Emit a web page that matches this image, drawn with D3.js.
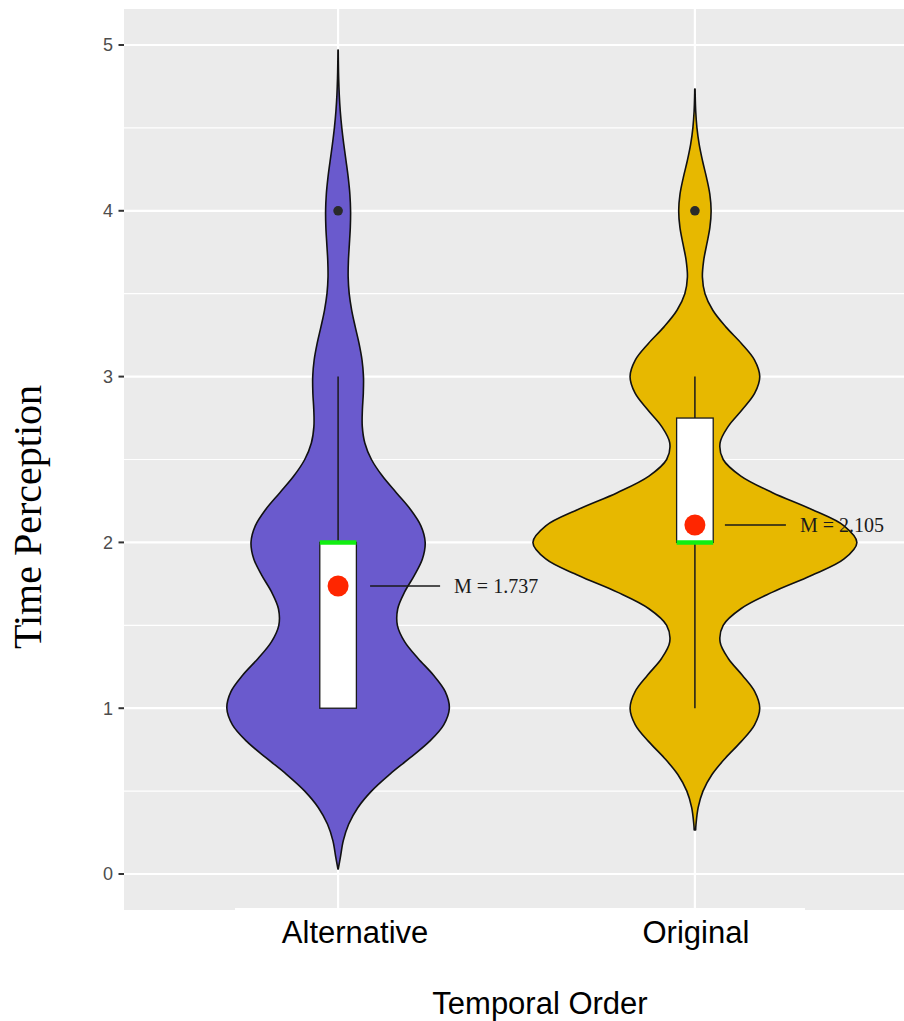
<!DOCTYPE html>
<html>
<head>
<meta charset="utf-8">
<script src="https://cdn.jsdelivr.net/npm/d3@7"></script>
<style>
  body { margin: 0; background: #ffffff; }
  svg { display: block; }
</style>
</head>
<body>
<svg id="chart" width="904" height="1021"></svg>
<script>
// ---- data ----
const categories = ["Alternative", "Original"];
const means = [1.737, 2.105];
const q1 = [1, 2];
const medians = [2, 2];
const q3 = [2, 2.75];
const whiskerLow = [1, 1];
const whiskerHigh = [3, 3];
const outliers = [[4], [4]];
const yTicks = [0, 1, 2, 3, 4, 5];
const yMinorTicks = [0.5, 1.5, 2.5, 3.5, 4.5];

// violin profiles: [Time Perception value, density relative to the widest violin]
const altDensity = [
  [0.03, 0.0008], [0.1, 0.0141], [0.2, 0.0318], [0.3, 0.0652], [0.4, 0.1216],
  [0.5, 0.2059], [0.6, 0.3171], [0.7, 0.4435], [0.8, 0.5639], [0.9, 0.6520],
  [1.0, 0.6867], [1.1, 0.6614], [1.2, 0.5881], [1.3, 0.4940], [1.4, 0.4115],
  [1.5, 0.3661], [1.6, 0.3682], [1.7, 0.4101], [1.8, 0.4701], [1.9, 0.5204],
  [2.0, 0.5376], [2.1, 0.5111], [2.2, 0.4459], [2.3, 0.3595], [2.4, 0.2736],
  [2.5, 0.2059], [2.6, 0.1650], [2.7, 0.1493], [2.8, 0.1500], [2.9, 0.1557],
  [3.0, 0.1567], [3.1, 0.1477], [3.2, 0.1293], [3.3, 0.1059], [3.4, 0.0840],
  [3.5, 0.0686], [3.6, 0.0622], [3.7, 0.0638], [3.8, 0.0697], [3.9, 0.0754],
  [4.0, 0.0771], [4.1, 0.0727], [4.2, 0.0627], [4.3, 0.0493], [4.4, 0.0352],
  [4.5, 0.0229], [4.6, 0.0135], [4.7, 0.0072], [4.8, 0.0035], [4.9, 0.0016],
  [4.97, 0.0008]
];
const origDensity = [
  [0.266, 0.0045], [0.3, 0.0068], [0.4, 0.0199], [0.5, 0.0498], [0.6, 0.1055],
  [0.7, 0.1890], [0.8, 0.2867], [0.9, 0.3681], [1.0, 0.4002], [1.1, 0.3692],
  [1.2, 0.2915], [1.3, 0.2059], [1.4, 0.1554], [1.5, 0.1744], [1.6, 0.2837],
  [1.7, 0.4793], [1.8, 0.7185], [1.9, 0.9206], [2.0, 1.0], [2.1, 0.9206],
  [2.2, 0.7185], [2.3, 0.4793], [2.4, 0.2837], [2.5, 0.1744], [2.6, 0.1554],
  [2.7, 0.2059], [2.8, 0.2915], [2.9, 0.3692], [3.0, 0.4003], [3.1, 0.3682],
  [3.2, 0.2871], [3.3, 0.1907], [3.4, 0.1105], [3.5, 0.0623], [3.6, 0.0463],
  [3.7, 0.0540], [3.8, 0.0736], [3.9, 0.0925], [4.0, 0.1001], [4.1, 0.0920],
  [4.2, 0.0717], [4.3, 0.0473], [4.4, 0.0264], [4.5, 0.0125], [4.6, 0.0050],
  [4.7, 0.0017], [4.734, 0.0011]
];
const densities = [altDensity, origDensity];

// ---- layout & style ----
const panel = { left: 124, right: 909, top: 9, bottom: 910 };
const yLimits = [-0.217, 5.217];
const fills = ["#6A5ACD", "#E7B800"];
const maxHalfWidth = 162;
const boxHalf = 18.3;
const labelShift = { Alternative: 17, Original: 1 };
const meanNote = {
  Alternative: { x1: 32, x2: 102, tx: 116 },
  Original: { x1: 30, x2: 91, tx: 105 }
};

const svg = d3.select("#chart");

const x = d3.scalePoint().domain(categories).range([panel.left, panel.right]).padding(0.6);
const y = d3.scaleLinear().domain(yLimits).range([panel.bottom, panel.top]);
const w = d3.scaleLinear().domain([0, 1]).range([0, maxHalfWidth]);

// panel background
svg.append("rect")
  .attr("x", panel.left).attr("y", panel.top)
  .attr("width", panel.right - panel.left).attr("height", panel.bottom - panel.top)
  .attr("fill", "#EBEBEB");

// grid
const grid = svg.append("g");
grid.selectAll("line.minor").data(yMinorTicks).join("line")
  .attr("class", "minor")
  .attr("x1", panel.left).attr("x2", panel.right)
  .attr("y1", d => y(d)).attr("y2", d => y(d))
  .attr("stroke", "#ffffff").attr("stroke-width", 1.2);
grid.selectAll("line.major").data(yTicks).join("line")
  .attr("class", "major")
  .attr("x1", panel.left).attr("x2", panel.right)
  .attr("y1", d => y(d)).attr("y2", d => y(d))
  .attr("stroke", "#ffffff").attr("stroke-width", 2.2);
grid.selectAll("line.vmajor").data(categories).join("line")
  .attr("class", "vmajor")
  .attr("x1", d => x(d)).attr("x2", d => x(d))
  .attr("y1", panel.top).attr("y2", panel.bottom)
  .attr("stroke", "#ffffff").attr("stroke-width", 2.2);

// violins
categories.forEach((cat, i) => {
  const cx = x(cat);
  const area = d3.area()
    .y(d => y(d[0]))
    .x0(d => cx - w(d[1]))
    .x1(d => cx + w(d[1]))
    .curve(d3.curveCatmullRom.alpha(0.5));
  svg.append("path")
    .datum(densities[i])
    .attr("d", area)
    .attr("fill", fills[i])
    .attr("stroke", "#111111")
    .attr("stroke-width", 1.6)
    .attr("stroke-linejoin", "round");
});

// box plots, means and notes
categories.forEach((cat, i) => {
  const cx = x(cat);
  const g = svg.append("g");
  // whiskers
  g.append("line")
    .attr("x1", cx).attr("x2", cx)
    .attr("y1", y(q3[i])).attr("y2", y(whiskerHigh[i]))
    .attr("stroke", "#1a1a1a").attr("stroke-width", 1.5);
  if (whiskerLow[i] < q1[i]) {
    g.append("line")
      .attr("x1", cx).attr("x2", cx)
      .attr("y1", y(q1[i])).attr("y2", y(whiskerLow[i]))
      .attr("stroke", "#1a1a1a").attr("stroke-width", 1.5);
  }
  // box
  g.append("rect")
    .attr("x", cx - boxHalf).attr("width", boxHalf * 2)
    .attr("y", y(q3[i])).attr("height", y(q1[i]) - y(q3[i]))
    .attr("fill", "#ffffff").attr("stroke", "#1a1a1a").attr("stroke-width", 1.3);
  // median
  g.append("line")
    .attr("x1", cx - boxHalf).attr("x2", cx + boxHalf)
    .attr("y1", y(medians[i])).attr("y2", y(medians[i]))
    .attr("stroke", "#11ee11").attr("stroke-width", 4.5);
  // outliers
  g.selectAll("circle.out").data(outliers[i]).join("circle")
    .attr("class", "out")
    .attr("cx", cx).attr("cy", d => y(d)).attr("r", 4.8)
    .attr("fill", "#2a2a2a");
  // mean
  g.append("circle")
    .attr("cx", cx).attr("cy", y(means[i])).attr("r", 10.5)
    .attr("fill", "#ff2600");
  // mean note
  const n = meanNote[cat];
  g.append("line")
    .attr("x1", cx + n.x1).attr("x2", cx + n.x2)
    .attr("y1", y(means[i])).attr("y2", y(means[i]))
    .attr("stroke", "#1a1a1a").attr("stroke-width", 1.6);
  g.append("text")
    .attr("x", cx + n.tx).attr("y", y(means[i]))
    .attr("dy", "0.33em")
    .attr("font-family", "'Liberation Serif', 'Times New Roman', serif")
    .attr("font-size", 20)
    .attr("fill", "#1a1a1a")
    .text("M = " + means[i].toFixed(3));
});

// y axis
const yAxis = svg.append("g");
yAxis.selectAll("line").data(yTicks).join("line")
  .attr("x1", panel.left - 5.5).attr("x2", panel.left)
  .attr("y1", d => y(d)).attr("y2", d => y(d))
  .attr("stroke", "#333333").attr("stroke-width", 2);
yAxis.selectAll("text").data(yTicks).join("text")
  .attr("x", panel.left - 11).attr("y", d => y(d))
  .attr("dy", "0.36em")
  .attr("text-anchor", "end")
  .attr("font-family", "'Liberation Sans', Arial, sans-serif")
  .attr("font-size", 18)
  .attr("fill", "#4D4D4D")
  .text(d => d);

// strip under the panel behind the category labels
svg.append("rect")
  .attr("x", 235).attr("y", panel.bottom - 2)
  .attr("width", 570).attr("height", 50)
  .attr("fill", "#ffffff");

// x category labels
svg.selectAll("text.xlab").data(categories).join("text")
  .attr("class", "xlab")
  .attr("x", d => x(d) + labelShift[d]).attr("y", 943)
  .attr("text-anchor", "middle")
  .attr("font-family", "'Liberation Sans', Arial, sans-serif")
  .attr("font-size", 31)
  .attr("fill", "#000000")
  .text(d => d);

// axis titles
svg.append("text")
  .attr("x", 540).attr("y", 1014)
  .attr("text-anchor", "middle")
  .attr("font-family", "'Liberation Sans', Arial, sans-serif")
  .attr("font-size", 31)
  .attr("fill", "#000000")
  .text("Temporal Order");

svg.append("text")
  .attr("transform", "translate(41,517) rotate(-90)")
  .attr("text-anchor", "middle")
  .attr("font-family", "'Liberation Serif', 'Times New Roman', serif")
  .attr("font-size", 40)
  .attr("fill", "#000000")
  .text("Time Perception");
</script>
</body>
</html>
